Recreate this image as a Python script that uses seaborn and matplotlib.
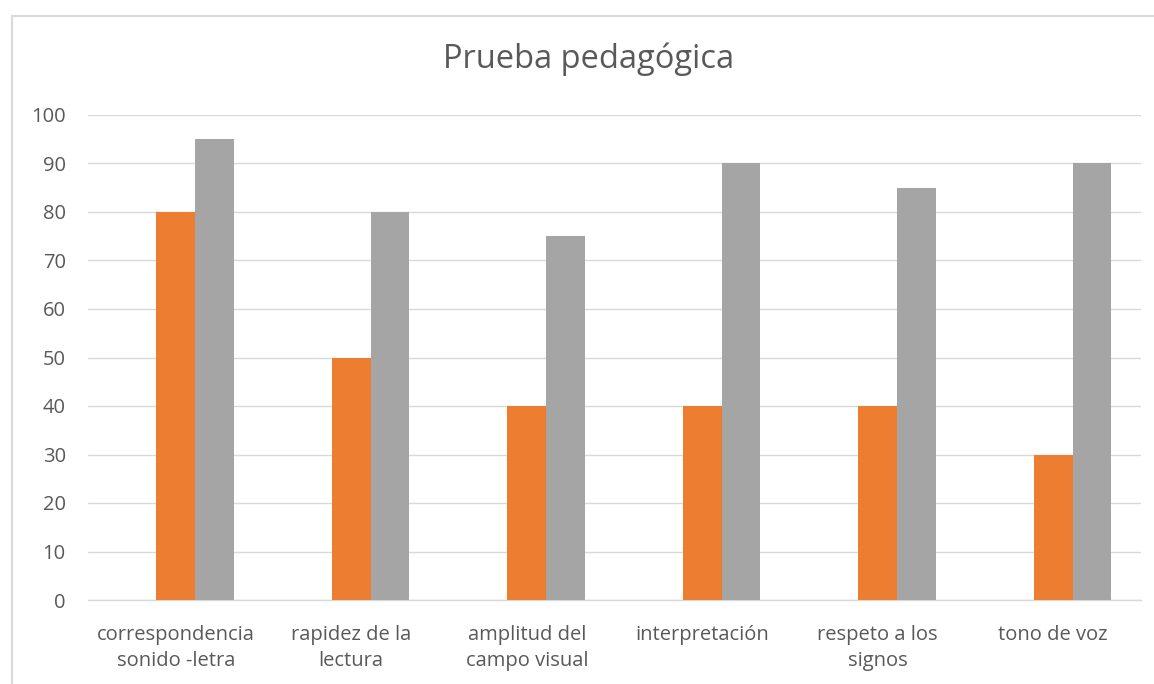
import matplotlib as mpl
mpl.use('Agg')
import matplotlib.pyplot as plt
import pandas as pd
import seaborn as sns

categories = ['correspondencia\nsonido -letra', 'rapidez de la\nlectura', 'amplitud del\ncampo visual',
              'interpretación', 'respeto a los\nsignos', 'tono de voz']
series_names = ['Serie 1', 'Serie 2', 'Serie 3']
# the first series is empty in the source chart, it only reserves its slot
serie1 = [0, 0, 0, 0, 0, 0]
serie2 = [80, 50, 40, 40, 40, 30]
serie3 = [95, 80, 75, 90, 85, 90]
y_ticks = [0, 10, 20, 30, 40, 50, 60, 70, 80, 90, 100]

df = pd.DataFrame({
    'categoria': categories * 3,
    'serie': [s for s in series_names for _ in categories],
    'valor': serie1 + serie2 + serie3,
})

sns.set_theme(style='white')
plt.rcParams['font.family'] = ['Open Sans', 'DejaVu Sans']

fig = plt.figure(figsize=(11.54, 6.84), dpi=100)
ax = fig.add_axes([88 / 1154, 1 - 600 / 684, (1141 - 88) / 1154, (600 - 115) / 684])

sns.barplot(data=df, x='categoria', y='valor', hue='serie', hue_order=series_names,
            palette=['#4472C4', '#ED7D31', '#A5A5A5'], width=0.66, gap=0,
            saturation=1, linewidth=0, legend=False, ax=ax, zorder=3)

ax.set_ylim(0, 100)
ax.set_yticks(y_ticks)
ax.set_xlabel('')
ax.set_ylabel('')
ax.yaxis.grid(True, color='#D9D9D9', linewidth=1, zorder=0)
ax.set_axisbelow(True)
for side in ['left', 'right', 'top']:
    ax.spines[side].set_visible(False)
ax.spines['bottom'].set_color('#D9D9D9')
ax.spines['bottom'].set_linewidth(1)
ax.tick_params(axis='both', length=0, labelsize=14.5, labelcolor='#595959')
ax.tick_params(axis='y', pad=16)
ax.tick_params(axis='x', pad=18)
for t in ax.get_xticklabels():
    t.set_linespacing(1.4)

fig.text(589 / 1154, 1 - 59 / 684, 'Prueba pedagógica', ha='center', va='center',
         fontsize=23.5, color='#595959')

border = plt.Rectangle((12 / 1154, -0.1), 1.2, 1 - 16 / 684 + 0.1, transform=fig.transFigure,
                       fill=False, edgecolor='#D9D9D9', linewidth=1.5)
fig.patches.append(border)

fig.savefig('out.png', dpi=100)
